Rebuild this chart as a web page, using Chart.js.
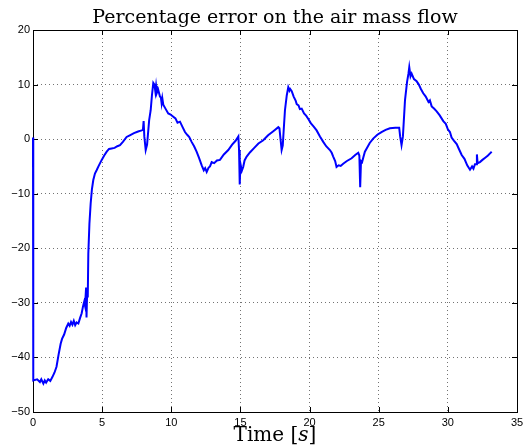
<!DOCTYPE html>
<html>
<head>
<meta charset="utf-8">
<script src="https://cdn.jsdelivr.net/npm/chart.js@4"></script>
<style>
    html, body { margin: 0; padding: 0; background: #fff; }
    #wrap { width: 531px; height: 446px; }
</style>
</head>
<body>
<div id="wrap"><canvas id="errorChart" width="531" height="446"></canvas></div>
<script>
const timeS = [
    0.00, 0.02, 0.3, 0.5, 0.6, 0.75, 0.85, 0.95, 1.1, 1.25, 1.4, 1.55, 1.7, 1.85, 2.0, 2.1, 2.25, 2.4,
    2.55, 2.65, 2.75, 2.85, 2.95, 3.05, 3.15, 3.28, 3.4, 3.52, 3.62, 3.7, 3.76, 3.8, 3.84, 3.86, 3.88,
    3.92, 3.96, 4.0, 4.08, 4.17, 4.26, 4.36, 4.48, 4.6, 4.75, 4.97, 5.15, 5.33, 5.5, 5.69, 5.9, 6.1,
    6.29, 6.5, 6.77, 7.0, 7.3, 7.6, 7.86, 7.95, 8.0, 8.05, 8.15, 8.25, 8.4, 8.51, 8.6, 8.7, 8.78, 8.85,
    8.9, 8.96, 9.05, 9.18, 9.25, 9.3, 9.35, 9.42, 9.6, 9.78, 9.95, 10.1, 10.3, 10.45, 10.63, 10.8,
    10.99, 11.15, 11.3, 11.47, 11.65, 11.83, 12.0, 12.2, 12.35, 12.45, 12.56, 12.7, 12.8, 12.92, 13.1,
    13.3, 13.52, 13.8, 14.12, 14.4, 14.65, 14.85, 14.9, 14.95, 15.0, 15.1, 15.2, 15.3, 15.45, 15.7,
    16.0, 16.3, 16.65, 17.0, 17.4, 17.74, 17.82, 17.9, 17.98, 18.06, 18.15, 18.22, 18.35, 18.46, 18.55,
    18.6, 18.71, 18.85, 19.0, 19.07, 19.2, 19.3, 19.43, 19.6, 19.75, 19.91, 20.1, 20.3, 20.51, 20.75,
    20.99, 21.2, 21.47, 21.6, 21.71, 21.85, 21.95, 22.1, 22.25, 22.43, 22.7, 23.04, 23.3, 23.52, 23.6,
    23.66, 23.72, 23.8, 23.88, 24.0, 24.13, 24.35, 24.6, 24.9, 25.2, 25.5, 25.81, 26.2, 26.48, 26.55,
    26.65, 26.75, 26.9, 27.05, 27.15, 27.21, 27.3, 27.38, 27.55, 27.74, 27.9, 28.05, 28.22, 28.4, 28.6,
    28.7, 28.83, 29.0, 29.19, 29.4, 29.67, 29.85, 30.0, 30.15, 30.27, 30.45, 30.64, 30.8, 31.0, 31.2,
    31.4, 31.6, 31.75, 31.85, 31.96, 32.05, 32.1, 32.15, 32.32, 32.5, 32.7, 32.9, 33.05, 33.17
];
const errorPct = [
    0.3, -44.2, -44.0, -44.5, -44.0, -44.8, -44.2, -44.6, -44.0, -44.3, -43.6, -42.8, -41.7, -39.5, -37.5, -36.6, -35.8, -34.6,
    -33.8, -34.2, -33.5, -34.0, -33.3, -34.1, -33.6, -33.8, -32.8, -31.9, -30.6, -29.8, -30.5, -29.0, -27.2, -31.0, -32.7,
    -27.5, -29.0, -21.0, -15.5, -11.8, -9.2, -7.5, -6.3, -5.7, -4.9, -3.8, -3.0, -2.3, -1.8, -1.7, -1.6, -1.3,
    -1.1, -0.5, 0.4, 0.7, 1.1, 1.4, 1.6, 1.7, 3.3, 0.5, -2.0, -1.0, 3.5, 5.3, 8.0, 10.3, 10.0, 8.7,
    9.8, 8.5, 9.1, 7.8, 7.6, 6.6, 7.5, 6.3, 5.5, 4.7, 4.5, 4.2, 3.8, 3.0, 3.2, 2.3,
    1.3, 0.8, 0.4, -0.5, -1.3, -2.3, -3.4, -4.8, -5.7, -5.3, -6.0, -5.2, -5.0, -4.2, -4.4,
    -3.9, -3.8, -2.8, -2.0, -1.0, -0.3, 0.5, -2.0, -8.3, -4.5, -5.8, -5.1, -3.9, -3.2, -2.4,
    -1.6, -0.8, -0.2, 0.7, 1.5, 2.2, 2.0, 0.0, -2.0, -1.2, 2.5, 5.3, 8.0, 9.5, 8.9,
    9.2, 8.8, 7.8, 7.0, 6.4, 6.2, 5.5, 5.6, 4.7, 4.3, 3.7, 2.9, 2.3, 1.6, 0.5,
    -0.5, -1.3, -2.0, -2.5, -3.2, -4.0, -5.1, -4.8, -4.9, -4.5, -4.0, -3.5, -2.9, -2.5, -3.0,
    -8.8, -4.0, -4.2, -3.4, -2.3, -1.7, -0.7, 0.1, 0.8, 1.3, 1.7, 2.0, 2.1, 2.1, 0.5,
    -1.1, 0.5, 7.1, 10.5, 12.0, 13.2, 11.5, 12.0, 11.0, 10.6, 10.0, 9.2, 8.4, 7.8, 6.8,
    7.1, 6.0, 5.6, 5.1, 4.4, 3.3, 2.8, 1.8, 1.3, 0.3, -0.3, -0.9, -1.8, -2.9, -3.6,
    -4.8, -5.6, -5.0, -5.4, -4.6, -4.6, -2.8, -4.4, -4.2, -3.8, -3.4, -3.0, -2.6, -2.3
];
const xTicks = [0, 5, 10, 15, 20, 25, 30, 35];
const yTicks = [-50, -40, -30, -20, -10, 0, 10, 20];
const titleText = "Percentage error on the air mass flow";
const xLabelText = "Time [";
const xLabelUnit = "s";

document.addEventListener("DOMContentLoaded", () => {
    const ctx = document.getElementById("errorChart").getContext("2d");

    const points = timeS.map((t, i) => ({ x: t, y: errorPct[i] }));

    // box + inward ticks under the line, texts on top (matlab look)
    const matlabFrame = {
        id: "matlabFrame",
        beforeDatasetsDraw(chart) {
            const c = chart.ctx;
            const a = chart.chartArea;
            const xs = chart.scales.x;
            const ys = chart.scales.y;
            c.save();
            c.strokeStyle = "#000";
            c.lineWidth = 1;
            c.strokeRect(Math.round(a.left) + 0.5, Math.round(a.top) + 0.5,
                Math.round(a.right - a.left), Math.round(a.bottom - a.top));
            c.beginPath();
            xTicks.forEach(v => {
                const px = Math.round(xs.getPixelForValue(v)) + 0.5;
                c.moveTo(px, a.bottom); c.lineTo(px, a.bottom - 5);
                c.moveTo(px, a.top); c.lineTo(px, a.top + 5);
            });
            yTicks.forEach(v => {
                const py = Math.round(ys.getPixelForValue(v)) + 0.5;
                c.moveTo(a.left, py); c.lineTo(a.left + 5, py);
                c.moveTo(a.right, py); c.lineTo(a.right - 5, py);
            });
            c.stroke();
            c.restore();
        },
        afterDraw(chart) {
            const c = chart.ctx;
            const a = chart.chartArea;
            c.save();
            c.fillStyle = "#000";
            c.textBaseline = "alphabetic";
            c.textAlign = "center";
            c.font = "19px 'DejaVu Serif'";
            c.fillText(titleText, (a.left + a.right) / 2, 23);

            c.font = "20px 'DejaVu Serif'";
            const w1 = c.measureText(xLabelText).width;
            const w3 = c.measureText("]").width;
            c.font = "italic 20px 'DejaVu Serif'";
            const w2 = c.measureText(xLabelUnit).width;
            const x0 = (a.left + a.right) / 2 - (w1 + w2 + w3) / 2;
            c.textAlign = "left";
            c.font = "20px 'DejaVu Serif'";
            c.fillText(xLabelText, x0, 441);
            c.font = "italic 20px 'DejaVu Serif'";
            c.fillText(xLabelUnit, x0 + w1, 441);
            c.font = "20px 'DejaVu Serif'";
            c.fillText("]", x0 + w1 + w2, 441);
            c.restore();
        }
    };

    const data = {
        datasets: [
            {
                label: "error",
                data: points,
                borderColor: "#0000ff",
                borderWidth: 2,
                pointRadius: 0,
                tension: 0,
                fill: false,
                clip: 3
            }
        ]
    };

    const options = {
        responsive: false,
        animation: false,
        layout: {
            padding: { top: 30, right: 14, left: 0, bottom: 0 }
        },
        plugins: {
            legend: { display: false },
            title: { display: false },
            tooltip: { enabled: false }
        },
        scales: {
            x: {
                type: "linear",
                min: 0,
                max: 35,
                afterBuildTicks: axis => { axis.ticks = xTicks.map(v => ({ value: v })); },
                afterFit: axis => { axis.height = 34; },
                ticks: {
                    color: "#000",
                    padding: 4,
                    maxRotation: 0,
                    font: { family: "'Liberation Sans'", size: 11 }
                },
                grid: {
                    color: "rgba(0, 0, 0, 0.55)",
                    drawTicks: false
                },
                border: { display: false, dash: [1, 3] }
            },
            y: {
                min: -50,
                max: 20,
                afterBuildTicks: axis => { axis.ticks = yTicks.map(v => ({ value: v })); },
                afterFit: axis => { axis.width = 33; },
                ticks: {
                    color: "#000",
                    padding: 3,
                    font: { family: "'Liberation Sans'", size: 11 },
                    callback: v => String(v).replace("-", "\u2212")
                },
                grid: {
                    color: "rgba(0, 0, 0, 0.55)",
                    drawTicks: false
                },
                border: { display: false, dash: [1, 3] }
            }
        }
    };

    new Chart(ctx, {
        type: "line",
        data: data,
        options: options,
        plugins: [matlabFrame]
    });
});
</script>
</body>
</html>
